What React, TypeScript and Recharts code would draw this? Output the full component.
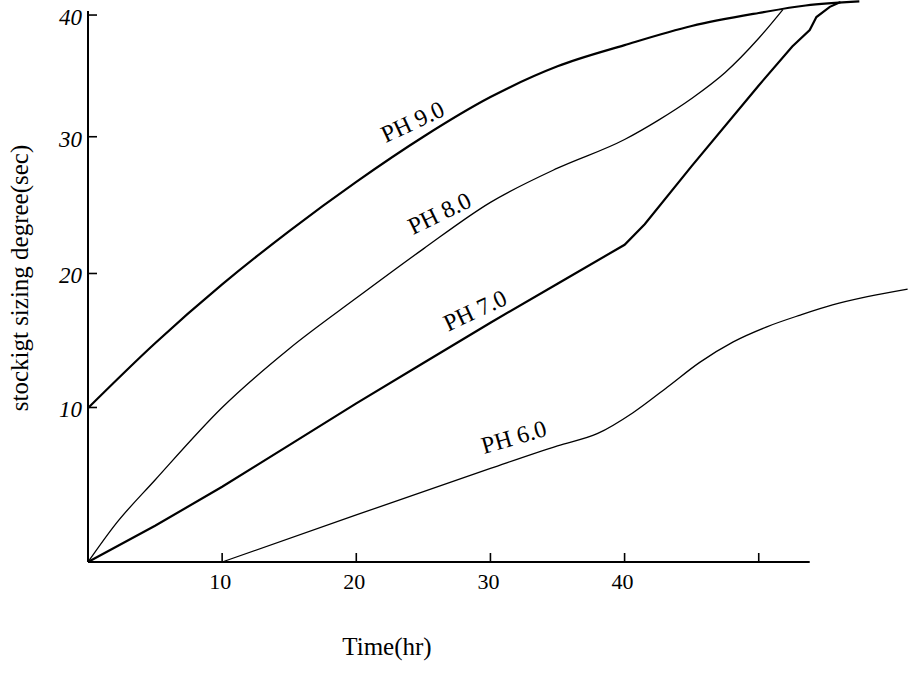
import { LineChart, Line, XAxis, YAxis, ReferenceLine, ReferenceDot } from "recharts";

const FONT = "'Liberation Serif', 'Times New Roman', serif";

// time (hr) vs stockigt sizing degree (sec)
const ph9Hours = [0, 5, 10, 15, 20, 25, 30, 35, 40, 45, 50, 53.5, 57.5];
const ph9Degree = [11.26, 16.0, 20.3, 24.2, 27.8, 31.1, 34.0, 36.25, 37.8, 39.2, 40.15, 40.7, 41.0];

const ph8Hours = [0, 2, 5, 10, 15, 20, 25, 30, 35, 40, 42.5, 45, 47.5, 50, 51.8];
const ph8Degree = [0, 2.7, 6.0, 11.3, 15.6, 19.3, 22.9, 26.3, 28.8, 30.9, 32.3, 33.9, 35.8, 38.3, 40.4];

const ph7Hours = [0, 5, 10, 15, 20, 25, 30, 35, 40, 41.5, 45, 50, 52.5, 53.8, 54.3, 55.3, 56.1];
const ph7Degree = [0, 2.65, 5.5, 8.55, 11.6, 14.55, 17.5, 20.35, 23.2, 24.7, 28.95, 34.85, 37.7, 38.9, 39.85, 40.6, 40.95];

const ph6Hours = [10, 20, 30, 35, 38, 40.6, 43.2, 45.6, 48.1, 50.6, 53.1, 55.5, 58.1, 61.1];
const ph6Degree = [0, 3.44, 6.85, 8.5, 9.4, 10.9, 12.8, 14.6, 16.1, 17.2, 18.06, 18.8, 19.4, 19.96];

const xTicks = [10, 20, 30, 40, 50];
const xTickLabels = ["10", "20", "30", "40", ""];
// the drawn y ticks are not evenly spaced, so they sit where the figure puts them
const yTicks = [11.3, 21.1, 31.1, 40];
const yTickLabels = ["10", "20", "30", "40"];

const curveLabels = ["PH 9.0", "PH 8.0", "PH 7.0", "PH 6.0"];
const curveLabelHours = [24.2, 26.2, 28.85, 31.75];
const curveLabelDegree = [32.2, 25.5, 18.4, 9.14];
const curveLabelAngle = [-25, -26, -25, -16];

const xAxisEnd = 53.8;
const yAxisEnd = 40.3;

const toPoints = (hours: number[], degree: number[]) => hours.map((x, i) => ({ x, y: degree[i] }));

const ph9 = toPoints(ph9Hours, ph9Degree);
const ph8 = toPoints(ph8Hours, ph8Degree);
const ph7 = toPoints(ph7Hours, ph7Degree);
const ph6 = toPoints(ph6Hours, ph6Degree);

function XTick({ x, y, payload }: any) {
  const label = xTickLabels[xTicks.indexOf(payload.value)];
  return (
    <g>
      <line x1={x} x2={x} y1={y} y2={y - 9} stroke="#000" strokeWidth={1.6} />
      <text x={x - 2} y={y + 27} textAnchor="middle" fontSize={22} fontFamily={FONT} fill="#000">
        {label}
      </text>
    </g>
  );
}

function YTick({ x, y, payload }: any) {
  const label = yTickLabels[yTicks.indexOf(payload.value)];
  return (
    <g>
      <line x1={x} x2={x + 9} y1={y} y2={y} stroke="#000" strokeWidth={1.6} />
      <text x={x - 6} y={y + 10} textAnchor="end" fontSize={23} fontStyle="italic" fontFamily={FONT} fill="#000">
        {label}
      </text>
    </g>
  );
}

export default function App() {
  return (
    <div style={{ position: "absolute", left: 0, top: 0, background: "#fff" }}>
      <LineChart width={913} height={674} margin={{ top: 0, right: 0, bottom: 0, left: 0 }}>
        <XAxis
          type="number"
          dataKey="x"
          domain={[0, 61.5]}
          ticks={xTicks}
          interval={0}
          tick={<XTick />}
          tickLine={false}
          axisLine={false}
          tickSize={0}
          tickMargin={0}
          height={112}
          label={{
            content: ({ viewBox }: any) => (
              <text x={viewBox.x + 299} y={viewBox.y + 93} textAnchor="middle" fontSize={25} fontFamily={FONT} fill="#000">
                Time(hr)
              </text>
            ),
          }}
        />
        <YAxis
          type="number"
          dataKey="y"
          domain={[0, 41.1]}
          ticks={yTicks}
          interval={0}
          tick={<YTick />}
          tickLine={false}
          axisLine={false}
          tickSize={0}
          tickMargin={0}
          width={88}
          label={{
            content: ({ viewBox }: any) => {
              const cx = viewBox.x + 19;
              const cy = viewBox.y + 278;
              return (
                <text
                  x={cx}
                  y={cy}
                  transform={`rotate(-90 ${cx} ${cy})`}
                  textAnchor="middle"
                  dominantBaseline="central"
                  fontSize={25}
                  fontFamily={FONT}
                  fill="#000"
                >
                  stockigt sizing degree(sec)
                </text>
              );
            },
          }}
        />
        <ReferenceLine segment={[{ x: 0, y: 0 }, { x: xAxisEnd, y: 0 }]} stroke="#000" strokeWidth={2} />
        <ReferenceLine segment={[{ x: 0, y: 0 }, { x: 0, y: yAxisEnd }]} stroke="#000" strokeWidth={2} />
        <Line data={ph9} dataKey="y" type="monotone" stroke="#000" strokeWidth={2.2} dot={false} isAnimationActive={false} />
        <Line data={ph8} dataKey="y" type="monotone" stroke="#000" strokeWidth={1.3} dot={false} isAnimationActive={false} />
        <Line data={ph7} dataKey="y" type="linear" stroke="#000" strokeWidth={2.2} dot={false} isAnimationActive={false} />
        <Line data={ph6} dataKey="y" type="monotone" stroke="#000" strokeWidth={1.3} dot={false} isAnimationActive={false} />
        {curveLabels.map((text, i) => (
          <ReferenceDot
            key={text}
            x={curveLabelHours[i]}
            y={curveLabelDegree[i]}
            r={0}
            ifOverflow="visible"
            shape={(p: any) => (
              <text
                x={p.cx}
                y={p.cy}
                transform={`rotate(${curveLabelAngle[i]} ${p.cx} ${p.cy})`}
                textAnchor="middle"
                dominantBaseline="central"
                fontSize={24}
                fontFamily={FONT}
                fill="#000"
              >
                {text}
              </text>
            )}
          />
        ))}
      </LineChart>
    </div>
  );
}
